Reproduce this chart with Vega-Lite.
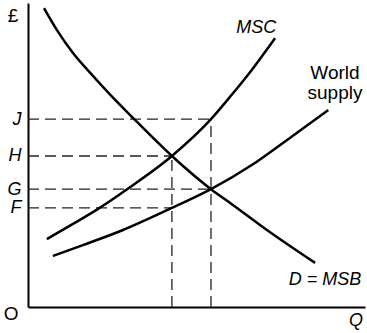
{
  "$schema": "https://vega.github.io/schema/vega-lite/v6.json",
  "width": 337,
  "height": 304,
  "autosize": {"type": "none"},
  "padding": {"left": 28, "top": 3, "right": 2, "bottom": 26},
  "background": "white",
  "config": {"view": {"stroke": null}, "font": "Liberation Sans"},
  "datasets": {
    "curves": [
      {"series": "D = MSB", "q": 4.75, "p": 99.0},
      {"series": "D = MSB", "q": 8.6, "p": 91.7},
      {"series": "D = MSB", "q": 13.35, "p": 84.1},
      {"series": "D = MSB", "q": 18.4, "p": 77.6},
      {"series": "D = MSB", "q": 24.3, "p": 70.4},
      {"series": "D = MSB", "q": 30.9, "p": 62.9},
      {"series": "D = MSB", "q": 42.7, "p": 50.0},
      {"series": "D = MSB", "q": 54.3, "p": 39.0},
      {"series": "D = MSB", "q": 60.8, "p": 33.8},
      {"series": "D = MSB", "q": 70.9, "p": 25.5},
      {"series": "D = MSB", "q": 85.2, "p": 14.6},
      {"series": "MSC", "q": 5.6, "p": 22.5},
      {"series": "MSC", "q": 13.35, "p": 27.5},
      {"series": "MSC", "q": 20.8, "p": 32.5},
      {"series": "MSC", "q": 29.4, "p": 39.0},
      {"series": "MSC", "q": 42.7, "p": 50.0},
      {"series": "MSC", "q": 54.3, "p": 62.2},
      {"series": "MSC", "q": 60.4, "p": 70.2},
      {"series": "MSC", "q": 66.4, "p": 78.5},
      {"series": "MSC", "q": 73.3, "p": 89.0},
      {"series": "World supply", "q": 7.4, "p": 16.9},
      {"series": "World supply", "q": 16.3, "p": 20.5},
      {"series": "World supply", "q": 28.2, "p": 25.5},
      {"series": "World supply", "q": 42.7, "p": 32.8},
      {"series": "World supply", "q": 54.3, "p": 39.0},
      {"series": "World supply", "q": 66.4, "p": 47.0},
      {"series": "World supply", "q": 78.2, "p": 56.4},
      {"series": "World supply", "q": 89.1, "p": 65.2}
    ],
    "dashes": [
      {"name": "J", "q": 0, "p": 62.2, "q2": 54.3, "p2": 62.2},
      {"name": "H", "q": 0, "p": 50.0, "q2": 42.7, "p2": 50.0},
      {"name": "G", "q": 0, "p": 39.0, "q2": 54.3, "p2": 39.0},
      {"name": "F", "q": 0, "p": 32.8, "q2": 42.7, "p2": 32.8},
      {"name": "Q1", "q": 42.7, "p": 0, "q2": 42.7, "p2": 50.0},
      {"name": "Q2", "q": 54.3, "p": 0, "q2": 54.3, "p2": 62.2}
    ],
    "italicLabels": [
      {"label": "MSC", "q": 67.7, "p": 90.7},
      {"label": "D = MSB", "q": 88.1, "p": 7.3},
      {"label": "Q", "q": 97.3, "p": -6.3}
    ],
    "plainLabels": [
      {"label": "World", "q": 91.1, "p": 75.6},
      {"label": "supply", "q": 91.1, "p": 69.0},
      {"label": "O", "q": -5.0, "p": -4.3}
    ],
    "pound": [
      {"label": "£", "q": -4.45, "p": 94.4}
    ]
  },
  "encoding": {
    "x": {
      "field": "q",
      "type": "quantitative",
      "scale": {"domain": [0, 100], "nice": false, "zero": false},
      "axis": {
        "domain": true,
        "domainColor": "black",
        "domainWidth": 2,
        "ticks": false,
        "labels": false,
        "grid": false,
        "title": null
      }
    },
    "y": {
      "field": "p",
      "type": "quantitative",
      "scale": {"domain": [0, 100.66], "nice": false, "zero": false},
      "axis": {
        "values": [32.8, 39, 50, 62.2],
        "labelExpr": "datum.value == 62.2 ? 'J' : datum.value == 50 ? 'H' : datum.value == 39 ? 'G' : 'F'",
        "labelFont": "Liberation Sans",
        "labelFontStyle": "italic",
        "labelFontSize": 18,
        "labelColor": "black",
        "labelPadding": 7,
        "labelOverlap": false,
        "labelBound": false,
        "labelFlush": false,
        "labelBaseline": "middle",
        "domain": true,
        "domainColor": "black",
        "domainWidth": 2,
        "ticks": false,
        "grid": false,
        "title": null
      }
    }
  },
  "layer": [
    {
      "data": {"name": "dashes"},
      "mark": {"type": "rule", "strokeDash": [11, 6], "strokeWidth": 1.3, "color": "#222"},
      "encoding": {
        "x2": {"field": "q2"},
        "y2": {"field": "p2"}
      }
    },
    {
      "data": {"name": "curves"},
      "mark": {"type": "line", "interpolate": "monotone", "strokeWidth": 2.5, "color": "black"},
      "encoding": {
        "detail": {"field": "series", "type": "nominal"}
      }
    },
    {
      "data": {"name": "italicLabels"},
      "mark": {"type": "text", "fontSize": 18, "fontStyle": "italic", "align": "center", "baseline": "alphabetic", "color": "black"},
      "encoding": {"text": {"field": "label"}}
    },
    {
      "data": {"name": "plainLabels"},
      "mark": {"type": "text", "fontSize": 19, "align": "center", "baseline": "alphabetic", "color": "black"},
      "encoding": {"text": {"field": "label"}}
    },
    {
      "data": {"name": "pound"},
      "mark": {"type": "text", "fontSize": 19, "align": "center", "baseline": "alphabetic", "color": "black"},
      "encoding": {"text": {"field": "label"}}
    }
  ]
}
